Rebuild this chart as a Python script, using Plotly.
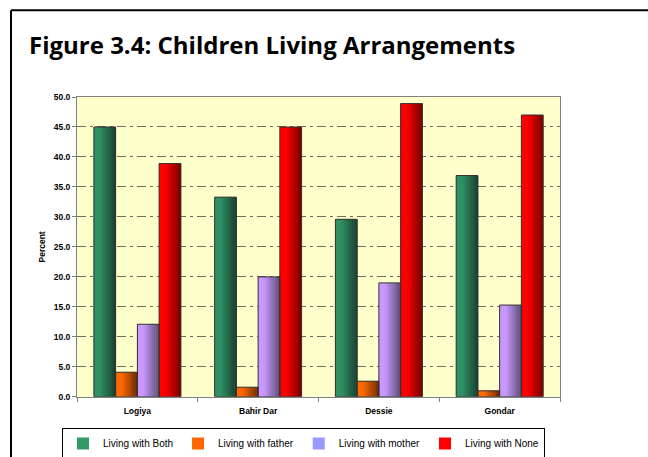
import plotly.graph_objects as go

# ---------------- data ----------------
categories = ["Logiya", "Bahir Dar", "Dessie", "Gondar"]
series_names = ["Living with Both", "Living with father", "Living with mother", "Living with None"]
both = [45.0, 33.3, 29.6, 36.9]
father = [4.1, 1.6, 2.6, 1.0]
mother = [12.1, 20.0, 19.0, 15.3]
none = [38.9, 45.0, 48.9, 47.0]
series_values = [both, father, mother, none]
y_ticks = [0, 5, 10, 15, 20, 25, 30, 35, 40, 45, 50]

# ---------------- style ----------------
W, H = 648, 457
L, R, T, B = 77, 560, 97, 398  # plot area in px
left_cols = ["#2F9164", "#FF6A00", "#CC99FF", "#FF0000"]
right_cols = ["#1A4030", "#6E2E00", "#605078", "#780000"]
legend_cols = ["#339966", "#FF6600", "#9999FF", "#FF0000"]
bar_w = 0.18
offsets = [-0.36, -0.18, 0.0, 0.18]
K = 12


def hex2rgb(h):
    h = h.lstrip("#")
    return [int(h[i:i + 2], 16) for i in (0, 2, 4)]


def mix(c1, c2, t):
    a, b = hex2rgb(c1), hex2rgb(c2)
    return "rgb(%d,%d,%d)" % tuple(round(a[i] + (b[i] - a[i]) * t) for i in range(3))


def px2x(px):
    return (px - L) / (R - L)


def px2y(py):
    return (B - py) / (B - T)


fig = go.Figure()

# legend carriers (solid, under the gradient)
for s, name in enumerate(series_names):
    fig.add_trace(go.Bar(
        x=categories, y=series_values[s], name=name,
        width=bar_w, offset=offsets[s],
        marker=dict(color=legend_cols[s], line=dict(width=0)),
        hoverinfo="skip",
    ))

# gradient slices
for s in range(4):
    for k in range(K):
        t = k / (K - 1)
        tt = max(0.0, (t - 0.25) / 0.75)
        fig.add_trace(go.Bar(
            x=categories, y=series_values[s], showlegend=False,
            width=bar_w / K + 0.002, offset=offsets[s] + k * bar_w / K,
            marker=dict(color=mix(left_cols[s], right_cols[s], tt), line=dict(width=0)),
            hoverinfo="skip",
        ))

# outlines
for s in range(4):
    fig.add_trace(go.Bar(
        x=categories, y=series_values[s], showlegend=False,
        width=bar_w, offset=offsets[s],
        marker=dict(color="rgba(0,0,0,0)", line=dict(width=1, color="#333333")),
        hoverinfo="skip",
    ))

axis_font = dict(family="Arial, Liberation Sans, sans-serif", size=8.5, color="#000000", weight="bold")

fig.update_layout(
    width=W, height=H,
    autosize=False,
    margin=dict(l=L, r=W - R, t=T, b=H - B),
    barmode="overlay",
    paper_bgcolor="#FFFFFF",
    plot_bgcolor="#FFFFCC",
    showlegend=True,
    title=dict(
        text="<b>Figure 3.4: Children Living Arrangements</b>",
        font=dict(family="Open Sans, sans-serif", size=24, color="#000000"),
        xref="container", yref="container",
        x=29 / W, xanchor="left",
        y=1 - 46 / H, yanchor="middle",
        pad=dict(l=0, r=0, t=0, b=0),
    ),
    legend=dict(
        orientation="h",
        xref="container", yref="container",
        x=303.5 / W, xanchor="center",
        y=1 - 428 / H, yanchor="top",
        bgcolor="#FFFFFF", bordercolor="#000000", borderwidth=1,
        font=dict(family="Arial, Liberation Sans, sans-serif", size=10, color="#000000"),
        itemwidth=30, tracegroupgap=0,
    ),
    xaxis=dict(
        type="category",
        showgrid=False,
        showline=True, linecolor="#808080", linewidth=1, mirror=True,
        ticks="outside", ticklen=4, tickcolor="#808080",
        tickson="boundaries",
        tickfont=axis_font,
        ticklabelstandoff=6,
        range=[-0.5, 3.5],
    ),
    yaxis=dict(
        range=[0, 50],
        tickvals=y_ticks,
        tickformat=".1f",
        showgrid=True, gridcolor="#6F6F60", gridwidth=1, griddash="9px,4px,3px,4px",
        zeroline=False,
        showline=True, linecolor="#808080", linewidth=1, mirror=True,
        ticks="outside", ticklen=4, tickcolor="#808080",
        tickfont=axis_font,
        title=dict(text="Percent", font=axis_font, standoff=6),
    ),
    shapes=[
        dict(type="line", xref="paper", yref="paper",
             x0=px2x(11), x1=px2x(11), y0=px2y(10), y1=px2y(460),
             line=dict(color="#000000", width=2)),
        dict(type="line", xref="paper", yref="paper",
             x0=px2x(11), x1=px2x(650), y0=px2y(10), y1=px2y(10),
             line=dict(color="#000000", width=2)),
    ],
)

fig.write_html(
    "out.html",
    config={"responsive": False, "displayModeBar": False},
    post_script="document.body.style.margin='0';",
)
